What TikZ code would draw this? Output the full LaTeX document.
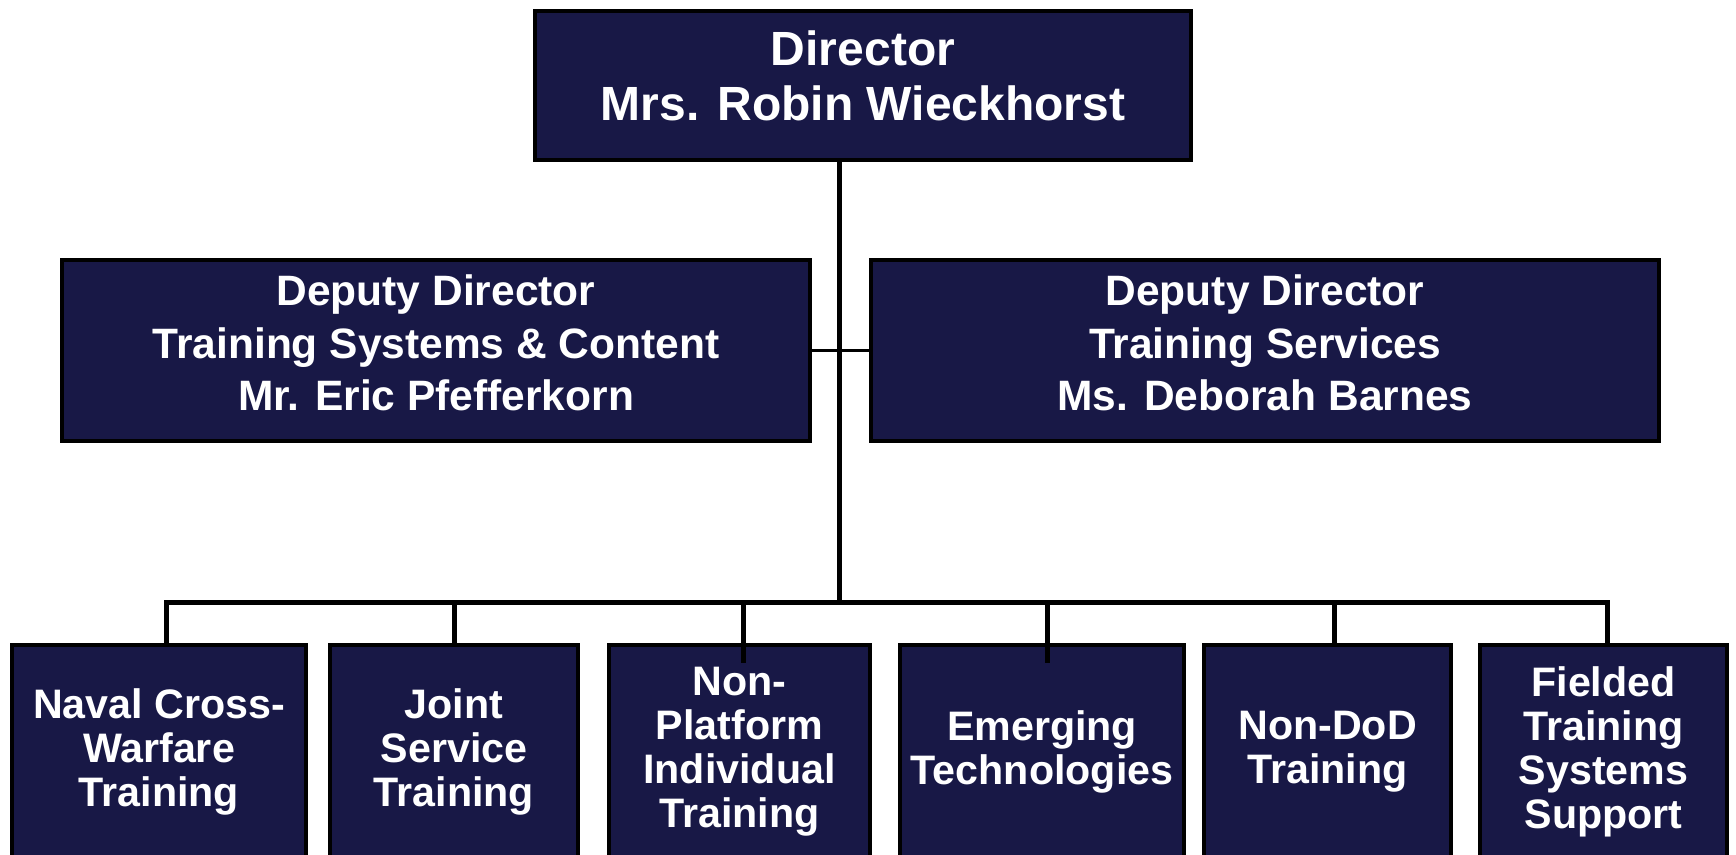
\documentclass[tikz,border=0pt]{standalone}
\usepackage{fontspec}
\setmainfont{Liberation Sans}
\usetikzlibrary{positioning}
\definecolor{navyfill}{RGB}{24,24,70}

\begin{document}
\begin{tikzpicture}[x=0.5pt, y=-0.5pt,
  unitbox/.style = {draw = black, line width = 2.2pt, fill = navyfill, inner sep = 0pt},
  unitname/.style = {text = white, align = center, inner sep = 0pt},
  leafbox/.style = {unitbox, text = white, align = center, minimum height = 107pt,
                    font = \bfseries\fontsize{20.6}{22}\selectfont},
  wire/.style = {line width = 2.5pt}]
\path[use as bounding box, clip] (0,0) rectangle (1736,855);

% director
\node[unitbox, minimum width = 328pt, minimum height = 74.5pt] (dir) at (863,85.5) {};
\node[unitname, font = \bfseries\fontsize{24}{27.5}\selectfont] (dirname) at (863,76)
  {Director\\Mrs. Robin Wieckhorst};

% deputies
\node[unitbox, minimum width = 374pt, minimum height = 90.5pt] (dl) at (436,350.5) {};
\node[unitname, font = \bfseries\fontsize{21.25}{26.25}\selectfont] (dlname) at (436,343)
  {Deputy Director\\Training Systems \& Content\\Mr. Eric Pfefferkorn};
\node[unitbox, minimum width = 394pt, minimum height = 90.5pt] (dr) at (1265,350.5) {};
\node[unitname, font = \bfseries\fontsize{21.25}{26.25}\selectfont] (drname) at (1265,343)
  {Deputy Director\\Training Services\\Ms. Deborah Barnes};

% divisions
\node[leafbox, minimum width = 147pt]   (naval)   at (159,752)    {Naval Cross-\\Warfare\\Training};
\node[leafbox, minimum width = 124pt]   (joint)   at (454,752)    {Joint\\Service\\Training};
\node[leafbox, minimum width = 130.5pt] (nonplat) at (739.5,752)  {Non-\\Platform\\Individual\\Training};
\node[leafbox, minimum width = 142pt]   (emerg)   at (1042,752)   {Emerging\\Technologies};
\node[leafbox, minimum width = 123.5pt] (nondod)  at (1327.5,752) {Non-DoD\\Training};
\node[leafbox, minimum width = 123.5pt] (fielded) at (1603.5,752) {Fielded\\Training\\Systems\\Support};

% connectors
\coordinate (hub) at (839,603);
\draw[wire] (dir.south -| hub) -- (hub);
\draw[line width = 1.6pt] (dl.east) -- (dr.west);
\draw[wire] ([xshift = 3.5pt]naval.north) |- (hub) -| ([xshift = 1.75pt]fielded.north);
\draw[wire] (joint.north) -- (joint.north |- hub);
\draw[wire] ([xshift = 1.75pt, yshift = -10pt]nonplat.north) -- ([xshift = 1.75pt]nonplat.north |- hub);
\draw[wire] ([xshift = 2.5pt, yshift = -10pt]emerg.north) -- ([xshift = 2.5pt]emerg.north |- hub);
\draw[wire] ([xshift = 3.25pt]nondod.north) -- ([xshift = 3.25pt]nondod.north |- hub);
\end{tikzpicture}
\end{document}
